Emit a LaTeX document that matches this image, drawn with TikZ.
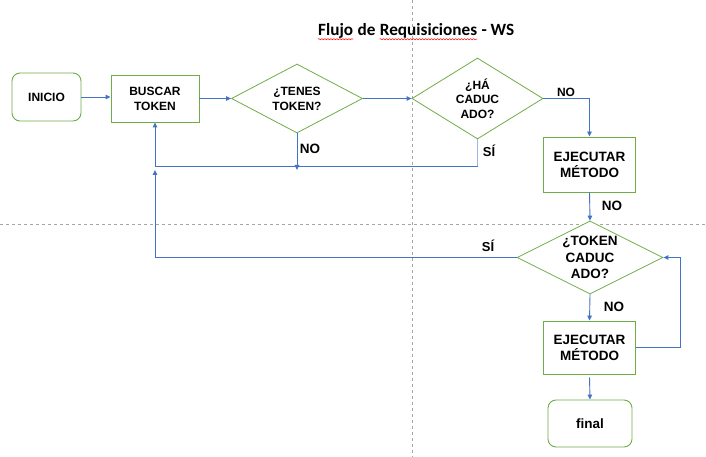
\documentclass[tikz,border=0pt]{standalone}
\usepackage{fontspec}
\setmainfont{Liberation Sans}
\newfontfamily\titlefont{Carlito}
\usetikzlibrary{shapes.geometric,arrows.meta,decorations.pathmorphing,calc}
\definecolor{grn}{HTML}{70AD47}
\definecolor{blu}{HTML}{4472C4}
\definecolor{blulight}{HTML}{9DB6E2}
\definecolor{gridc}{HTML}{A6A6A6}
\begin{document}
\begin{tikzpicture}[x=1pt,y=-1pt,
  smtxt/.style={font=\fontsize{12}{15}\selectfont\bfseries},
  bigtxt/.style={font=\fontsize{13.5}{16}\selectfont\bfseries},
  rbox/.style={draw=grn, line width=0.9pt, fill=white, rounded corners=8pt, inner sep=0pt, align=center},
  pbox/.style={draw=grn, line width=0.9pt, fill=white, inner sep=0pt, align=center},
  dia/.style={diamond, draw=grn, line width=0.8pt, fill=white, inner sep=0pt, align=center},
  line/.style={draw=blu, line width=0.9pt},
  conn/.style={line, -{Triangle[length=5pt,width=4.5pt]}},
  lbl/.style={bigtxt, inner sep=0pt},
  ttl/.style={font=\titlefont\fontsize{17.2}{20}\selectfont\bfseries, inner sep=0pt, anchor=base west},
  wavy/.style={draw=red, line width=0.5pt, decorate, decoration={snake, amplitude=0.6pt, segment length=3pt}},
  gridline/.style={draw=gridc, line width=0.7pt, dash pattern=on 3pt off 3pt}
]
\useasboundingbox[fill=white] (0,0) rectangle (706,457);

% background guide lines
\draw[gridline] (412,0) -- (412,457);
\draw[gridline] (0,224) -- (706,224);

% title
\node[ttl] (t1) at (318,36) {Flujo};
\node[ttl] (t2) at ([xshift=4pt]t1.base east) {de};
\node[ttl] (t3) at ([xshift=4pt]t2.base east) {Requisiciones};
\node[ttl] (t4) at ([xshift=4pt]t3.base east) {- WS};
\draw[wavy] ([yshift=-3.2pt]t1.base west) -- ([yshift=-3.2pt]t1.base east);
\draw[wavy] ([yshift=-3.2pt]t3.base west) -- ([yshift=-3.2pt]t3.base east);

% nodes
\node[rbox, smtxt, minimum width=69pt, minimum height=48pt] (inicio) at (46.5,97) {INICIO};
\node[pbox, smtxt, minimum width=88pt, minimum height=47pt] (buscar) at (155,98.5) {BUSCAR\\TOKEN};
\node[dia, smtxt, aspect=1.9, minimum width=131pt, minimum height=69pt] (d1) at (297,98.5) {¿TENES\\TOKEN?};
\node[dia, font=\fontsize{12}{14.5}\selectfont\bfseries, aspect=1.6, minimum width=131pt, minimum height=81pt] (d2) at (477.5,98.5) {¿HÁ\\CADUC\\ADO?};
\node[pbox, bigtxt, minimum width=92pt, minimum height=55pt] (box1) at (589.5,164.5) {EJECUTAR\\MÉTODO};
\node[dia, font=\fontsize{13.5}{16.5}\selectfont\bfseries, aspect=2, minimum width=146pt, minimum height=73pt] (d3) at (590,257.5) {¿TOKEN\\CADUC\\ADO?};
\node[pbox, bigtxt, minimum width=92pt, minimum height=53pt] (box2) at (589.5,347.5) {EJECUTAR\\MÉTODO};
\node[rbox, bigtxt, minimum width=84pt, minimum height=47pt] (final) at (590,423.5) {final};

% helper coordinate for the return line
\coordinate (h) at (0,166);

% connectors
\draw[conn] (inicio.east) -- (inicio.east -| buscar.west);
\draw[conn] (buscar.east) -- (d1.west);
\draw[conn] (d1.east) -- (d2.west);
\draw[conn] (d2.east) -| (box1.north);
\draw[line, draw=blulight] (d2.south) -- (d2.south |- h);
\draw[conn] (d2.south |- h) -- (buscar.south |- h) -- (buscar.south);
\draw[conn] (d1.south) -- ($(d1.south |- h)+(0,4)$);
\draw[conn] (d3.west) -| ($(buscar.south |- h)+(0,4)$);
\draw[conn] (box1.south) -- (d3.north);
\draw[conn] (d3.south) -- (box2.north);
\draw[conn] (box2.east) -- ++(44,0) |- (d3.east);
\draw[conn] ([yshift=-3pt]box2.south) -- (final.north);

% connector labels
\node[lbl, font=\fontsize{12}{14}\selectfont\bfseries] (no1) at (566,92) {NO};
\node[lbl] (no2) at (310,149) {NO};
\node[lbl, font=\fontsize{13}{15}\selectfont\bfseries] (si1) at (489,151) {SÍ};
\node[lbl] (no3) at (612,206) {NO};
\node[lbl, font=\fontsize{13}{15}\selectfont\bfseries] (si2) at (488,246) {SÍ};
\node[lbl] (no4) at (614,307) {NO};
\end{tikzpicture}
\end{document}
